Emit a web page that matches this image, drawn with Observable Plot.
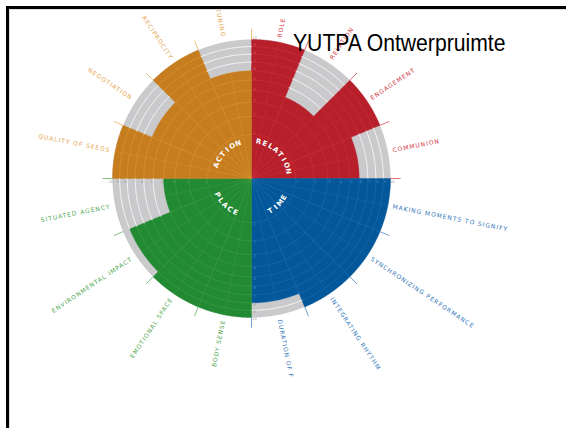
<!DOCTYPE html>
<html>
<head>
<meta charset="utf-8">
<script src="https://cdn.jsdelivr.net/npm/d3@7"></script>
<script src="https://cdn.jsdelivr.net/npm/@observablehq/plot@0.6"></script>
<style>
html, body { margin: 0; padding: 0; background: #fff; width: 566px; height: 428px; overflow: hidden; }
body { position: relative; }
#chartWrap { position: absolute; left: 0; top: 0; width: 511px; height: 380px; overflow: hidden; }
#frameTop { position: absolute; left: 6px; top: 6px; width: 560px; height: 3px; background: #000; }
#frameLeft { position: absolute; left: 6px; top: 6px; width: 3px; height: 422px; background: #000; }
#innerTop { position: absolute; left: 9px; top: 9px; width: 557px; height: 1px; background: #dcdcdc; }
#innerLeft { position: absolute; left: 9px; top: 9px; width: 1px; height: 419px; background: #dcdcdc; }
#title { position: absolute; left: 293px; top: 32px; font-family: "Liberation Sans", Arial, sans-serif; font-size: 23px; line-height: 23px; color: #000; white-space: nowrap; transform: scaleX(0.92); transform-origin: 0 0; }
</style>
</head>
<body>
<div id="chartWrap"></div>
<div id="innerTop"></div>
<div id="innerLeft"></div>
<div id="frameTop"></div>
<div id="frameLeft"></div>
<div id="title">YUTPA Ontwerpruimte</div>
<script>
// ---- data ----
const quadrants = ["RELATION", "TIME", "PLACE", "ACTION"];
const quadrantColors = ["#b71f2b", "#03589b", "#238a34", "#c57d1f"];
const quadrantLineColors = ["#cc2f3b", "#1d6aa8", "#3b9c3d", "#db922b"];
const quadrantLabelColors = ["#d23641", "#3277bb", "#4fa84f", "#e6a54e"];
const categories = [
  "ROLE", "RELATION", "ENGAGEMENT", "COMMUNION",
  "MAKING MOMENTS TO SIGNIFY", "SYNCHRONIZING PERFORMANCE", "INTEGRATING RHYTHM", "DURATION OF F",
  "BODY SENSE", "EMOTIONAL SPACE", "ENVIRONMENTAL IMPACT", "SITUATED AGENCY",
  "QUALITY OF SEEDS", "NEGOTIATION", "RECIPROCITY", "TUNING"
];
const values = [10, 4, 10, 6, 10, 10, 10, 8, 10, 10, 9, 4, 10, 6, 10, 6];
const categoryQuadrant = [0, 0, 0, 0, 1, 1, 1, 1, 2, 2, 2, 2, 3, 3, 3, 3];
const ringLevels = [1, 2, 3, 4, 5, 6, 7, 8, 9, 10];
const tickLabels = ["1", "2", "3", "4", "5", "6", "7", "8", "9", "10"];
const gridGray = "#cacacc";

// ---- layout ----
const W = 511, H = 380, CX = 251, CY = 178, R = 139;
const rScale = d3.scaleSqrt().domain([0, 10]).range([0, 1]);
const STEP = 360 / categories.length;
const QSTEP = 360 / quadrants.length;
const rad = (d) => d * Math.PI / 180;
const toXY = (deg, r) => ({x: r * Math.sin(rad(deg)), y: r * Math.cos(rad(deg))});
function arcPoints(a0, a1, r) {
  const n = Math.max(2, Math.ceil((a1 - a0) / 0.5));
  const pts = [];
  for (let s = 0; s <= n; s++) pts.push(toXY(a0 + (a1 - a0) * s / n, r));
  return pts;
}

// background disc
const bg = arcPoints(0, 360, 1).map(p => ({...p, id: "bg", fill: gridGray}));
bg.unshift({x: 0, y: 0, id: "bg", fill: gridGray});

// wedges
const wedges = [];
categories.forEach((c, i) => {
  const a0 = i * STEP, a1 = a0 + STEP, q = categoryQuadrant[i];
  const fill = quadrantColors[q];
  wedges.push({x: 0, y: 0, id: "w" + i, fill});
  arcPoints(a0, a1, rScale(values[i])).forEach(p => wedges.push({...p, id: "w" + i, fill}));
  wedges.push({x: 0, y: 0, id: "w" + i, fill});
});

// rings
const rings = [];
categories.forEach((c, i) => {
  const a0 = i * STEP, a1 = a0 + STEP, q = categoryQuadrant[i];
  ringLevels.forEach(k => {
    if (k >= 10 || k === values[i]) return;
    const stroke = k < values[i] ? quadrantLineColors[q] : "#ffffff";
    arcPoints(a0, a1, rScale(k)).forEach(p => rings.push({...p, id: "r" + i + "_" + k, stroke}));
  });
});

// interior spokes (every half category)
const spokes = [];
quadrants.forEach((qn, q) => {
  for (let j = 1; j < 8; j++) {
    const ang = q * QSTEP + j * STEP / 2;
    const ci = q * 4 + Math.floor(j / 2);
    let len;
    if (j % 2 === 1) len = rScale(values[ci]);
    else len = rScale(Math.min(values[ci - 1], values[ci]));
    const stroke = quadrantLineColors[q];
    spokes.push({...toXY(ang, 0), id: "s" + q + "_" + j, stroke});
    spokes.push({...toXY(ang, len), id: "s" + q + "_" + j, stroke});
  }
});

// outer ticks at category boundaries
const ticks = [];
categories.forEach((c, i) => {
  const ang = (i + 1) * STEP, q = categoryQuadrant[i];
  const stroke = quadrantLabelColors[q];
  ticks.push({...toXY(ang, 1.0), id: "t" + i, stroke});
  ticks.push({...toXY(ang, 1.07), id: "t" + i, stroke});
});

// category labels
const labelsRight = [], labelsLeft = [];
categories.forEach((c, i) => {
  const mid = (i + 0.5) * STEP, q = categoryQuadrant[i];
  const p = toXY(mid, 1.035);
  if (mid < 180) labelsRight.push({...p, text: c, rotate: mid - 90, fill: quadrantLabelColors[q]});
  else labelsLeft.push({...p, text: c, rotate: mid - 270, fill: quadrantLabelColors[q]});
});

// quadrant titles along an arc
const letters = [];
const letterStep = 9.7, titleR = 0.27;
quadrants.forEach((qn, q) => {
  const center = q * QSTEP + QSTEP / 2;
  const top = center < 90 || center > 270;
  const n = qn.length;
  [...qn].forEach((ch, i) => {
    const off = (i - (n - 1) / 2) * letterStep;
    const ang = top ? center + off : center - off;
    letters.push({...toXY(ang, titleR), ch, rotate: top ? ang : ang - 180});
  });
});

// little level numbers along the four axes
const axisDefs = [
  {angle: 0, side: 1, cat: 0},
  {angle: 90, side: 1, cat: 4},
  {angle: 180, side: -1, cat: 7},
  {angle: 270, side: -1, cat: 11}
];
const nums = [];
axisDefs.forEach(a => {
  ringLevels.forEach((k, idx) => {
    const p = toXY(a.angle, rScale(k) + 0.012);
    const o = toXY(a.angle + a.side * 90, 0.022);
    const fill = k >= values[a.cat] ? "#9a9a9a" : "rgba(255,255,255,0.3)";
    nums.push({x: p.x + o.x, y: p.y + o.y, text: tickLabels[idx], fill});
  });
});

const chart = Plot.plot({
  width: W,
  height: H,
  margin: 0,
  x: {domain: [-CX / R, (W - CX) / R], axis: null},
  y: {domain: [-(H - CY) / R, CY / R], axis: null},
  color: {type: "identity"},
  style: {background: "transparent", fontFamily: "'DejaVu Sans', sans-serif"},
  marks: [
    Plot.line(bg, {x: "x", y: "y", z: "id", fill: "fill", stroke: "none"}),
    Plot.line(wedges, {x: "x", y: "y", z: "id", fill: "fill", stroke: "fill", strokeWidth: 0.4}),
    Plot.line(rings, {x: "x", y: "y", z: "id", stroke: "stroke", strokeWidth: 0.8}),
    Plot.line(spokes, {x: "x", y: "y", z: "id", stroke: "stroke", strokeWidth: 0.5}),
    Plot.line(ticks, {x: "x", y: "y", z: "id", stroke: "stroke", strokeWidth: 0.7}),
    Plot.text(nums, {x: "x", y: "y", text: "text", fill: "fill", fontSize: 3.6}),
    Plot.text(labelsRight, {x: "x", y: "y", text: "text", rotate: "rotate", fill: "fill", textAnchor: "start", fontSize: 6}),
    Plot.text(labelsLeft, {x: "x", y: "y", text: "text", rotate: "rotate", fill: "fill", textAnchor: "end", fontSize: 6}),
    Plot.text(letters, {x: "x", y: "y", text: "ch", rotate: "rotate", fill: "#ffffff", fontWeight: "bold", fontSize: 7})
  ]
});
// widen the letter spacing of the category labels
d3.select(chart).selectAll("text")
  .filter(function() { return categories.includes(this.textContent); })
  .style("letter-spacing", "1px");
document.getElementById("chartWrap").appendChild(chart);
</script>
</body>
</html>
